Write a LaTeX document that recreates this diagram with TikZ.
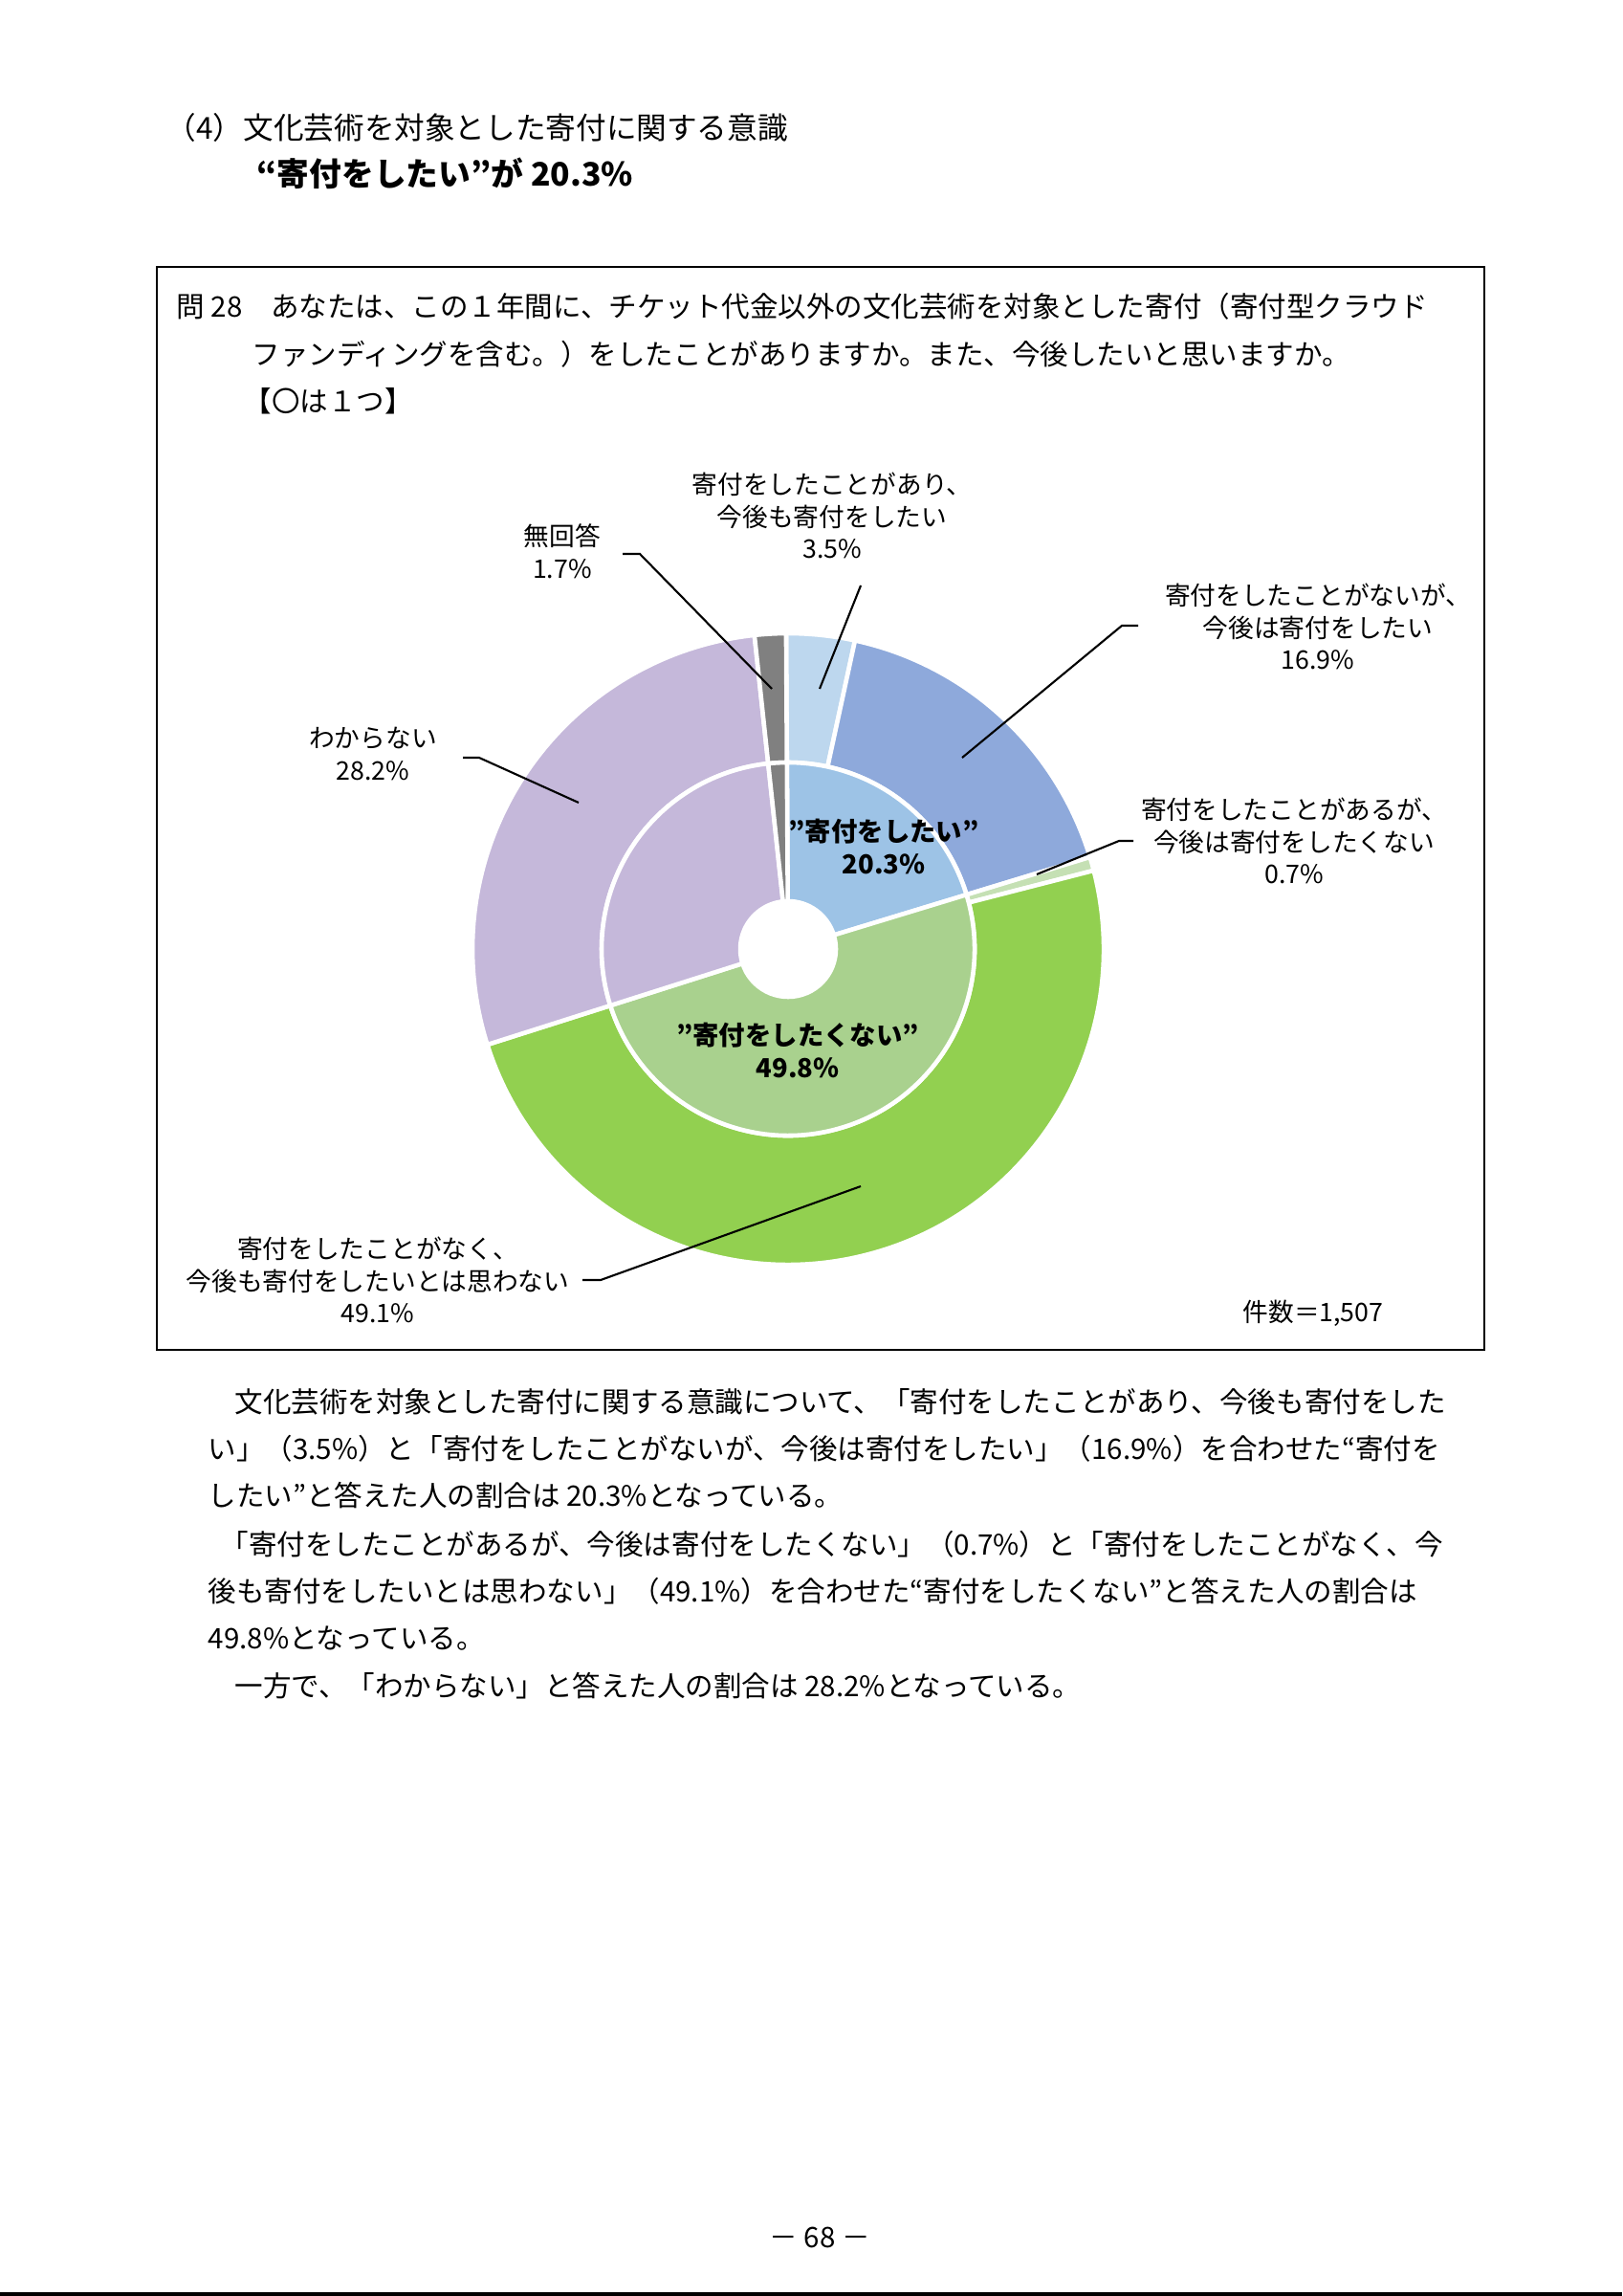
\documentclass[tikz,border=0pt]{standalone}
\usepackage{fontspec}
\setmainfont{Noto Sans CJK JP}
\usetikzlibrary{positioning,calc}
\definecolor{blueA}{HTML}{BDD7EE}
\definecolor{blueB}{HTML}{8EA9DB}
\definecolor{blueC}{HTML}{9DC3E6}
\definecolor{greenA}{HTML}{C5E0B4}
\definecolor{greenB}{HTML}{92D050}
\definecolor{greenC}{HTML}{A9D18E}
\definecolor{lavender}{HTML}{C5B8DA}
\definecolor{grayA}{HTML}{808080}
% one ring slice: inner radius, outer radius, start angle, end angle, colour
\newcommand{\ringslice}[5]{%
  \fill[#5,draw=white,line width=1.3pt] (#3:#2) arc[start angle=#3,end angle=#4,radius=#2]
    -- (#4:#1) arc[start angle=#4,end angle=#3,radius=#1] -- cycle;}
\begin{document}
\begin{tikzpicture}[
      body/.style={anchor=west,font=\fontsize{8.4pt}{10pt}\selectfont,inner sep=0pt},
      lbl/.style={align=center,font=\fontsize{7.6pt}{9.6pt}\selectfont,inner sep=1pt},
      inlbl/.style={align=center,font=\fontsize{7.8pt}{9.8pt}\selectfont\bfseries\itshape,inner sep=1pt},
      lead/.style={draw=black,line width=0.6pt},
    ]
      \useasboundingbox[fill=white] (0,0) rectangle (16.96,-24);
      % heading
      \node[body,font=\fontsize{9pt}{11pt}\selectfont] (h1) at (1.73,-1.33) {（4）文化芸術を対象とした寄付に関する意識};
      \node[body,font=\fontsize{9.6pt}{12pt}\selectfont\bfseries] (h2) at (2.68,-1.81) {“寄付をしたい”が 20.3\%};
      % question frame
      \draw[line width=0.8pt] (1.64,-2.79) rectangle (15.52,-14.11);
      \node[body] (q1) at (1.84,-3.20) {問 28　あなたは、この１年間に、チケット代金以外の文化芸術を対象とした寄付（寄付型クラウド};
      \node[body] (q2) at (2.63,-3.70) {ファンディングを含む。）をしたことがありますか。また、今後したいと思いますか。};
      \node[body] (q3) at (2.54,-4.19) {【〇は１つ】};
      % doughnut
      \begin{scope}[shift={(8.24,-9.92)}]
        \ringslice{1.95}{3.3}{90.36}{77.76}{blueA}
        \ringslice{1.95}{3.3}{77.76}{16.92}{blueB}
        \ringslice{1.95}{3.3}{16.92}{14.4}{greenA}
        \ringslice{1.95}{3.3}{14.4}{-162.36}{greenB}
        \ringslice{1.95}{3.3}{-162.36}{-263.88}{lavender}
        \ringslice{1.95}{3.3}{-263.88}{-269.64}{grayA}
        \ringslice{0.5}{1.95}{90.36}{16.92}{blueC}
        \ringslice{0.5}{1.95}{16.92}{-162.36}{greenC}
        \ringslice{0.5}{1.95}{-162.36}{-263.88}{lavender}
        \ringslice{0.5}{1.95}{-263.88}{-269.64}{grayA}
      \end{scope}
      % inner labels
      \node[inlbl] (want) at (9.24,-8.85) {”寄付をしたい”\\20.3\%};
      \node[inlbl] (nowant) at (8.34,-10.98) {”寄付をしたくない”\\49.8\%};
      % outer labels
      \node[lbl] (l1) at (8.70,-5.39) {寄付をしたことがあり、\\今後も寄付をしたい\\3.5\%};
      \node[lbl] (l2) at (5.88,-5.76) {無回答\\1.7\%};
      \node[lbl] (l3) at (13.78,-6.55) {寄付をしたことがないが、\\今後は寄付をしたい\\16.9\%};
      \node[lbl] (l4) at (13.53,-8.79) {寄付をしたことがあるが、\\今後は寄付をしたくない\\0.7\%};
      \node[lbl] (l5) at (3.90,-7.88) {わからない\\28.2\%};
      \node[lbl] (l6) at (3.95,-13.38) {寄付をしたことがなく、\\今後も寄付をしたいとは思わない\\49.1\%};
      \node[lbl,anchor=center] (count) at (13.73,-13.73) {件数＝1,507};
      % leader points
      \coordinate (e1) at (8.57,-7.20);
      \coordinate (b2) at (6.69,-5.79);
      \coordinate (e2) at (8.07,-7.20);
      \coordinate (b3) at (11.73,-6.54);
      \coordinate (e3) at (10.06,-7.92);
      \coordinate (b4) at (11.70,-8.79);
      \coordinate (e4) at (10.84,-9.14);
      \coordinate (b5) at (5.01,-7.92);
      \coordinate (e5) at (6.05,-8.39);
      \coordinate (b6) at (6.28,-13.38);
      \coordinate (e6) at (9.00,-12.40);
      \draw[lead] (9.00,-6.12) -- (e1);
      \draw[lead] (6.51,-5.79) -- (b2) -- (e2);
      \draw[lead] (11.90,-6.54) -- (b3) -- (e3);
      \draw[lead] (11.85,-8.79) -- (b4) -- (e4);
      \draw[lead] (4.84,-7.92) -- (b5) -- (e5);
      \draw[lead] (6.09,-13.38) -- (b6) -- (e6);
      % body text
      \node[body] (t1) at (2.45,-14.65) {文化芸術を対象とした寄付に関する意識について、「寄付をしたことがあり、今後も寄付をした};
      \node[body] (t2) at (2.17,-15.14) {い」（3.5\%）と「寄付をしたことがないが、今後は寄付をしたい」（16.9\%）を合わせた“寄付を};
      \node[body] (t3) at (2.17,-15.63) {したい”と答えた人の割合は 20.3\%となっている。};
      \node[body] (t4) at (2.30,-16.14) {「寄付をしたことがあるが、今後は寄付をしたくない」（0.7\%）と「寄付をしたことがなく、今};
      \node[body] (t5) at (2.17,-16.63) {後も寄付をしたいとは思わない」（49.1\%）を合わせた“寄付をしたくない”と答えた人の割合は};
      \node[body] (t6) at (2.17,-17.13) {49.8\%となっている。};
      \node[body] (t7) at (2.45,-17.62) {一方で、「わからない」と答えた人の割合は 28.2\%となっている。};
      % page number and rule
      \node[body,anchor=center] (page) at (8.57,-23.39) {－ 68 －};
      \fill[black] (0,-23.96) rectangle (16.96,-24);
    \end{tikzpicture}
\end{document}
